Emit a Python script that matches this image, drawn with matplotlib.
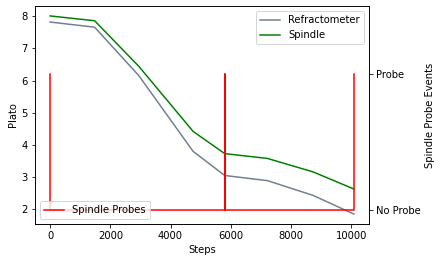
import matplotlib
matplotlib.use("Agg")
import matplotlib.pyplot as plt

steps = [0, 1480, 2950, 4750, 5800, 7220, 8740, 10090]
refractometer = [7.82, 7.66, 6.15, 3.80, 3.05, 2.89, 2.43, 1.85]
spindle = [8.01, 7.86, 6.44, 4.42, 3.73, 3.58, 3.16, 2.63]

probe_steps = [0, 0, 5800, 5800, 5800, 10090, 10090]
probe_values = [1, 0, 0, 1, 0, 0, 1]
probe_ticklabels = ["No Probe", "Probe"]

DPI = 72
fig = plt.figure(figsize=(442 / DPI, 262 / DPI), dpi=DPI)
ax = fig.add_axes([0.079, 0.145, 0.756, 0.832])
ax.plot(steps, refractometer, color="slategray", label="Refractometer")
ax.plot(steps, spindle, color="green", label="Spindle")
ax.set_xlabel("Steps")
ax.set_ylabel("Plato")
ax.set_xticks([0, 2000, 4000, 6000, 8000, 10000])
ax.legend(loc="upper right")

ax2 = ax.twinx()
ax2.plot(probe_steps, probe_values, color="red", label="Spindle Probes")
ax2.set_ylim(-0.1, 1.5)
ax2.set_yticks([0, 1])
ax2.set_yticklabels(probe_ticklabels)
ax2.set_ylabel("Spindle Probe Events")
ax2.legend(loc="lower left")

fig.savefig("out.png", dpi=DPI)
